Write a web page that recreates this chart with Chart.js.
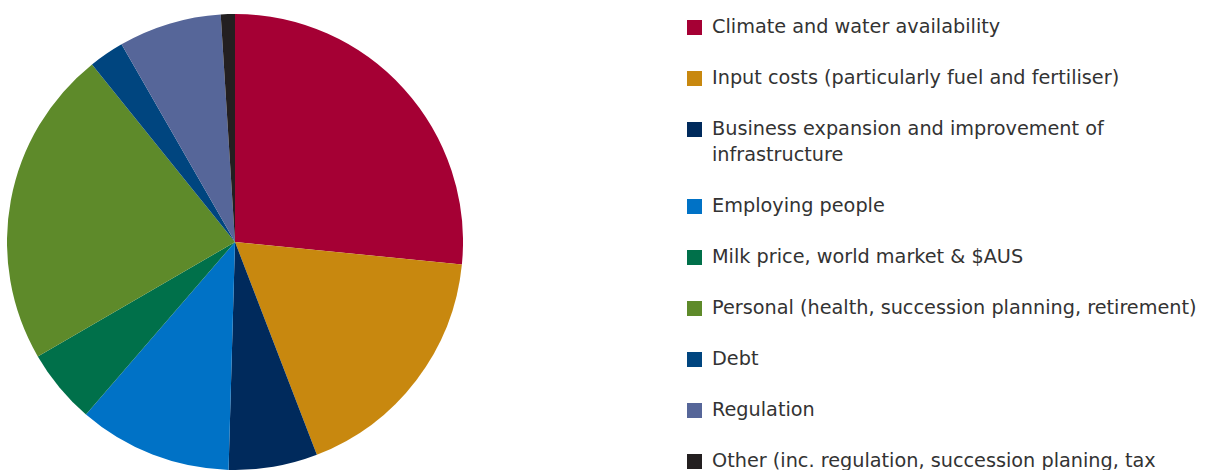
<!DOCTYPE html>
<html>
<head>
<meta charset="utf-8">
<script src="https://cdn.jsdelivr.net/npm/chart.js@4/dist/chart.umd.min.js"></script>
<style>
  html, body { margin: 0; padding: 0; background: #fff; width: 1205px; height: 470px; overflow: hidden; }
  #pieBox { position: absolute; left: 7px; top: 14px; width: 456px; height: 456px; }
  #legend { position: absolute; left: 687px; top: 14px; width: 515px; margin: 0; padding: 0; list-style: none;
            font-family: "DejaVu Sans", sans-serif; font-size: 19.25px; line-height: 26px; color: #333; }
  #legend li { position: relative; padding-left: 25px; margin-bottom: 25px; }
  #legend li span.sw { position: absolute; left: 0; top: 5.5px; width: 15px; height: 15px; }
</style>
</head>
<body>
<div id="pieBox"><canvas id="pie"></canvas></div>
<ul id="legend"></ul>
<script>
// Main pressures on the business, share of responses (%)
const categories = [
  "Climate and water availability",
  "Input costs (particularly fuel and fertiliser)",
  "Business expansion and improvement of infrastructure",
  "Employing people",
  "Milk price, world market & $AUS",
  "Personal (health, succession planning, retirement)",
  "Debt",
  "Regulation",
  "Other (inc. regulation, succession planing, tax concessions)"
];
const shares = [26.6, 17.6, 6.3, 10.9, 5.3, 22.6, 2.5, 7.3, 1.0];
const colours = ["#A50034", "#C8880F", "#002A5C", "#0072C6", "#00704A", "#5E8A2A", "#00457F", "#566699", "#231F20"];

new Chart(document.getElementById("pie"), {
  type: "pie",
  data: {
    labels: categories,
    datasets: [{ data: shares, backgroundColor: colours, borderWidth: 0 }]
  },
  options: {
    responsive: true,
    maintainAspectRatio: false,
    animation: false,
    layout: { padding: 0 },
    plugins: { legend: { display: false }, tooltip: { enabled: false } }
  }
});

// Legend list built from the same categories and colours
const legend = document.getElementById("legend");
categories.forEach((name, i) => {
  const li = document.createElement("li");
  const sw = document.createElement("span");
  sw.className = "sw";
  sw.style.background = colours[i];
  li.appendChild(sw);
  li.appendChild(document.createTextNode(name));
  legend.appendChild(li);
});
</script>
</body>
</html>
